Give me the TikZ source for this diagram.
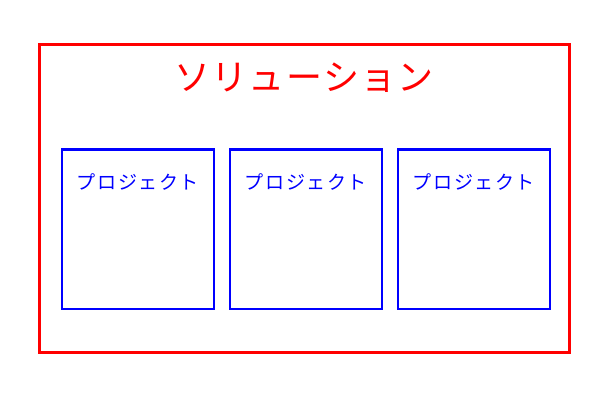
\documentclass[tikz,border=0pt]{standalone}
\usepackage{fontspec}
\newfontfamily\jptitle[LetterSpace=4]{Noto Sans CJK JP}
\newfontfamily\jplabel[LetterSpace=8]{Noto Sans CJK JP}
\begin{document}
\begin{tikzpicture}[x=0.75pt,y=-0.75pt,
  solution/.style={draw=red,line width=2.25pt},
  project/.style={draw=blue,line width=1.9pt},
  titletext/.style={text=red,font=\jptitle\fontsize{27}{31}\selectfont},
  labeltext/.style={text=blue,font=\jplabel\fontsize{14.3}{17}\selectfont}]
\useasboundingbox (0,0) rectangle (600,400);
\draw[solution] (39.5,44.5) rectangle (569.5,352.5);
\node[titletext] (title) at (304,78) {ソリューション};
\foreach \i/\x in {1/62,2/230,3/398}{
  \draw[project] (\x,149.5) rectangle ++(152,159.5);
  \node[labeltext] (p\i) at (\x+76,182) {プロジェクト};
}
\end{tikzpicture}
\end{document}
